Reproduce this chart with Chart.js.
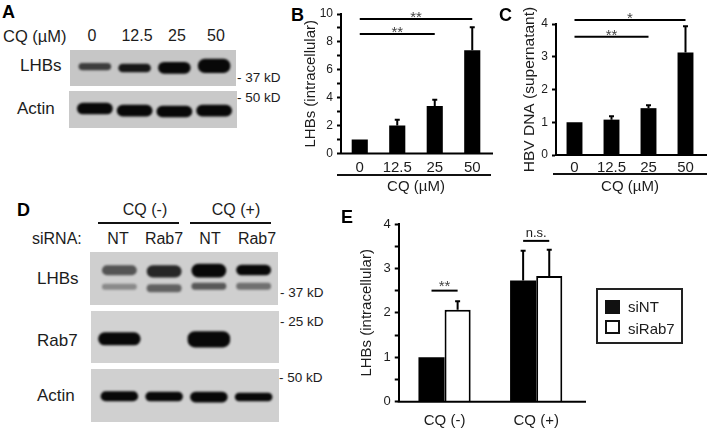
<!DOCTYPE html>
<html>
<head>
<meta charset="utf-8">
<title>CQ and Rab7 blots</title>
<script src="https://cdn.jsdelivr.net/npm/chart.js@4"></script>
<style>
  html, body { margin: 0; background: #fff; }
  #fig { position: relative; width: 712px; height: 428px; overflow: hidden; font-family: "Liberation Sans", Arial, sans-serif; color: #1c1c1c; }
  #fig canvas.plot { position: absolute; }
  .t { position: absolute; transform: translate(-50%, -50%); white-space: nowrap; font-size: 16px; }
  .l { position: absolute; transform: translateY(-50%); white-space: nowrap; font-size: 16px; }
  .mw { font-size: 13.5px; }
  .tag { font-size: 18px; font-weight: bold; color: #000; }
  .rule { position: absolute; height: 2px; background: #111; }
  .blot { position: absolute; overflow: hidden; }
  .blot canvas { filter: blur(1.2px); }
  #legend { position: absolute; left: 596px; top: 288px; width: 83px; height: 52px; border: 2px solid #222; background: #fff; }
  #legend div { position: absolute; left: 7px; width: 15px; height: 14px; box-sizing: border-box; border: 2px solid #111; }
  #legend span { position: absolute; left: 30px; font-size: 15px; transform: translateY(-50%); }
</style>
</head>
<body>
<div id="fig">
  <span class="l tag" style="left:2px;top:12px">A</span>
  <span class="l" style="left:3px;top:36px;font-size:16.5px">CQ (µM)</span>
  <span class="t" style="left:92px;top:36px">0</span>
  <span class="t" style="left:137px;top:36px">12.5</span>
  <span class="t" style="left:177px;top:36px">25</span>
  <span class="t" style="left:216px;top:36px">50</span>
  <span class="l" style="left:20px;top:66px;font-size:17px">LHBs</span>
  <span class="l" style="left:17px;top:109px;font-size:17px">Actin</span>
  <span class="l mw" style="left:237px;top:77px">- 37 kD</span>
  <span class="l mw" style="left:237px;top:97px">- 50 kD</span>
  <div class="blot" style="left:70px;top:50px;width:166px;height:36px;background:#c6c6c6"><canvas id="blotA1" width="166" height="36"></canvas></div>
  <div class="blot" style="left:69px;top:91px;width:168px;height:37px;background:#c9c9c9"><canvas id="blotA2" width="168" height="37"></canvas></div>

  <span class="l tag" style="left:291px;top:15px">B</span>
  <canvas class="plot" id="chartB" width="220" height="200" style="left:280px;top:0"></canvas>
  <div class="rule" style="left:337px;top:174px;width:154px"></div>

  <span class="l tag" style="left:499px;top:15px">C</span>
  <canvas class="plot" id="chartC" width="212" height="200" style="left:500px;top:0"></canvas>
  <div class="rule" style="left:553px;top:173px;width:154px"></div>

  <span class="l tag" style="left:17px;top:210px">D</span>
  <span class="t" style="left:145px;top:210px">CQ (-)</span>
  <span class="t" style="left:236px;top:210px">CQ (+)</span>
  <div class="rule" style="left:98px;top:222px;width:81px"></div>
  <div class="rule" style="left:190px;top:222px;width:81px"></div>
  <span class="l" style="left:32px;top:239px">siRNA:</span>
  <span class="t" style="left:118px;top:239px">NT</span>
  <span class="t" style="left:164px;top:239px">Rab7</span>
  <span class="t" style="left:210px;top:239px">NT</span>
  <span class="t" style="left:257px;top:239px">Rab7</span>
  <span class="l" style="left:37px;top:279px;font-size:17px">LHBs</span>
  <span class="l" style="left:37px;top:341px;font-size:17px">Rab7</span>
  <span class="l" style="left:37px;top:396px;font-size:17px">Actin</span>
  <span class="l mw" style="left:280px;top:292px">- 37 kD</span>
  <span class="l mw" style="left:280px;top:321px">- 25 kD</span>
  <span class="l mw" style="left:279px;top:377px">- 50 kD</span>
  <div class="blot" style="left:90px;top:252px;width:188px;height:53px;background:#cfcfcf"><canvas id="blotD1" width="188" height="53"></canvas></div>
  <div class="blot" style="left:91px;top:311px;width:188px;height:52px;background:#d2d2d2"><canvas id="blotD2" width="188" height="52"></canvas></div>
  <div class="blot" style="left:91px;top:369px;width:188px;height:53px;background:#d0d0d0"><canvas id="blotD3" width="188" height="53"></canvas></div>

  <span class="l tag" style="left:341px;top:217px">E</span>
  <canvas class="plot" id="chartE" width="250" height="228" style="left:340px;top:200px"></canvas>
  <div id="legend"></div>
</div>

<script>
// panel A / B / C
const doses = ['0', '12.5', '25', '50'];
const lhbsMean = [1.0, 2.0, 3.4, 7.4];
const lhbsErrTop = [1.0, 2.42, 3.85, 9.05];
const hbvMean = [1.0, 1.08, 1.43, 3.13];
const hbvErrTop = [1.0, 1.18, 1.52, 3.93];

// panel E
const groups = ['CQ (-)', 'CQ (+)'];
const siNtMean = [1.0, 2.73];
const siNtErrTop = [1.0, 3.4];
const siRabMean = [2.07, 2.83];
const siRabErrTop = [2.26, 3.42];
const legendNames = ['siNT', 'siRab7'];

// blots: band [from, to] as % of the panel height, and how dark it is (0-1)
const lanesA = ['0', '12.5', '25', '50'];
const lanesD = ['NT -', 'Rab7 -', 'NT +', 'Rab7 +'];
const a1Band = [[36, 56], [38, 62], [33, 66], [24, 64]];
const a1Dark = [0.72, 0.92, 1, 1];
const a2Band = [[32, 63], [37, 69], [40, 71], [37, 69]];
const a2Dark = [1, 1, 1, 1];
const d1Upper = [[25, 44], [25, 48], [22, 48], [24, 44]];
const d1UpperDark = [0.62, 0.85, 1, 1];
const d1Lower = [[60, 71], [61, 76], [58, 71], [58, 71]];
const d1LowerDark = [0.35, 0.55, 0.6, 0.48];
const d2Band = [[41, 66], null, [39, 70], null];
const d2Dark = [1, 0, 1, 0];
const d3Band = [[42, 61], [43, 61], [43, 63], [45, 61]];
const d3Dark = [1, 1, 1, 1];

Chart.defaults.font.family = '"Liberation Sans", Arial, sans-serif';
Chart.defaults.color = '#1c1c1c';
Chart.defaults.animation = false;

// error bars, significance brackets and the x axis line, all through the chart scales
const figureMarks = {
  id: 'figureMarks',
  afterDatasetsDraw(chart, args, opts) {
    const { ctx, chartArea, scales } = chart;
    ctx.save();
    ctx.strokeStyle = '#000';
    ctx.lineWidth = 2;

    (opts.errors || []).forEach((tops, ds) => {
      chart.getDatasetMeta(ds).data.forEach((bar, i) => {
        const y = scales.y.getPixelForValue(tops[i]);
        if (y >= bar.y) return; // control lanes have no spread
        ctx.beginPath();
        ctx.moveTo(bar.x, bar.y);
        ctx.lineTo(bar.x, y);
        ctx.moveTo(bar.x - 2.5, y);
        ctx.lineTo(bar.x + 2.5, y);
        ctx.stroke();
      });
    });

    ctx.beginPath();
    ctx.moveTo(chartArea.left - 1, chartArea.bottom);
    ctx.lineTo(chartArea.right + (opts.axisExtend || 0), chartArea.bottom);
    ctx.stroke();

    (opts.brackets || []).forEach(b => {
      const x0 = chart.getDatasetMeta(b.from[0]).data[b.from[1]].x;
      const x1 = chart.getDatasetMeta(b.to[0]).data[b.to[1]].x;
      const y = scales.y.getPixelForValue(b.y);
      ctx.beginPath();
      ctx.moveTo(x0, y);
      ctx.lineTo(x1, y);
      ctx.stroke();
      const isNs = b.label === 'n.s.';
      ctx.fillStyle = isNs ? '#1c1c1c' : '#444';
      ctx.font = (isNs ? 13 : 15) + 'px "Liberation Sans"';
      ctx.textAlign = 'center';
      ctx.fillText(b.label, (x0 + x1) / 2, isNs ? y - 4 : y + opts.starDrop);
    });
    ctx.restore();
  }
};

function barChart(id, cfg) {
  return new Chart(document.getElementById(id), {
    type: 'bar',
    data: { labels: cfg.labels, datasets: cfg.datasets },
    plugins: [figureMarks],
    options: {
      responsive: false,
      devicePixelRatio: 1,
      layout: { padding: cfg.padding },
      plugins: {
        legend: { display: false },
        tooltip: { enabled: false },
        figureMarks: { errors: cfg.errors, brackets: cfg.brackets, axisExtend: cfg.axisExtend, starDrop: cfg.starDrop }
      },
      scales: {
        x: {
          afterFit: s => { s.height = cfg.xHeight; },
          border: { display: false },
          grid: { display: false, drawTicks: false },
          ticks: { font: { size: 15 }, padding: cfg.xPad, maxRotation: 0 },
          title: cfg.xTitle ? { display: true, text: cfg.xTitle, font: { size: 15 }, padding: { top: 0, bottom: 4 } } : { display: false }
        },
        y: {
          min: 0,
          max: cfg.yMax,
          afterFit: s => { s.width = cfg.yWidth; },
          afterBuildTicks: s => { s.ticks = cfg.yTicks.map(v => ({ value: v })); },
          border: { display: true, color: '#000', width: 2 },
          grid: { drawOnChartArea: false, drawTicks: true, tickLength: 4, tickWidth: 2, color: '#000' },
          ticks: {
            font: { size: cfg.yFont },
            padding: 4,
            autoSkip: false,
            callback: v => (cfg.yLabelled.includes(v) ? String(v) : '')
          },
          title: { display: true, text: cfg.yTitle, font: { size: cfg.yTitleSize }, padding: { top: cfg.yTitleInset, bottom: 0 } }
        }
      }
    }
  });
}

barChart('chartB', {
  labels: doses,
  datasets: [{ data: lhbsMean, backgroundColor: '#000', barPercentage: 1, categoryPercentage: 0.43 }],
  errors: [lhbsErrTop],
  brackets: [
    { from: [0, 0], to: [0, 3], y: 9.64, label: '**' },
    { from: [0, 0], to: [0, 2], y: 8.57, label: '**' }
  ],
  padding: { top: 14, right: 9, left: 0, bottom: 0 },
  xHeight: 46.5, xPad: 5, yWidth: 61, yMax: 10,
  yTicks: [0, 1, 2, 3, 4, 5, 6, 7, 8, 9, 10],
  yLabelled: [0, 2, 4, 6, 8, 10],
  yFont: 12, yTitle: 'LHBs (intracellular)', yTitleSize: 15, yTitleInset: 22,
  xTitle: 'CQ (µM)', axisExtend: 2, starDrop: 3
});

barChart('chartC', {
  labels: doses,
  datasets: [{ data: hbvMean, backgroundColor: '#000', barPercentage: 1, categoryPercentage: 0.43 }],
  errors: [hbvErrTop],
  brackets: [
    { from: [0, 0], to: [0, 3], y: 4.12, label: '*' },
    { from: [0, 0], to: [0, 2], y: 3.61, label: '**' }
  ],
  padding: { top: 24, right: 8, left: 0, bottom: 0 },
  xHeight: 45, xPad: 4, yWidth: 56, yMax: 4,
  yTicks: [0, 1, 2, 3, 4],
  yLabelled: [0, 1, 2, 3, 4],
  yFont: 12, yTitle: 'HBV DNA (supernatant)', yTitleSize: 15.5, yTitleInset: 20,
  xTitle: 'CQ (µM)', axisExtend: 3, starDrop: 3
});

barChart('chartE', {
  labels: groups,
  datasets: [
    { data: siNtMean, backgroundColor: '#000', barPercentage: 1, categoryPercentage: 0.57 },
    { data: siRabMean, backgroundColor: '#fff', borderColor: '#000', borderWidth: 2, barPercentage: 1, categoryPercentage: 0.57 }
  ],
  errors: [siNtErrTop, siRabErrTop],
  brackets: [
    { from: [0, 0], to: [1, 0], y: 2.5, label: '**' },
    { from: [0, 1], to: [1, 1], y: 3.62, label: 'n.s.' }
  ],
  padding: { top: 24, right: 8, left: 0, bottom: 0 },
  xHeight: 26.3, xPad: 10, yWidth: 58.75, yMax: 4,
  yTicks: [0, 0.5, 1, 1.5, 2, 2.5, 3, 3.5, 4],
  yLabelled: [0, 1, 2, 3, 4],
  yFont: 13, yTitle: 'LHBs (intracellular)', yTitleSize: 15, yTitleInset: 18,
  axisExtend: 4, starDrop: 0
});

// legend for panel E
const legendEl = document.getElementById('legend');
legendNames.forEach((name, i) => {
  const swatch = document.createElement('div');
  swatch.style.top = (i === 0 ? 10 : 30) + 'px';
  swatch.style.background = i === 0 ? '#111' : '#fff';
  const text = document.createElement('span');
  text.textContent = name;
  text.style.top = (i === 0 ? 16 : 38) + 'px';
  legendEl.append(swatch, text);
});

function blotChart(id, lanes, bands, widthShare, side) {
  return new Chart(document.getElementById(id), {
    type: 'bar',
    data: {
      labels: lanes,
      datasets: bands.map(b => ({
        data: b.band,
        backgroundColor: b.dark.map(d => `rgba(8,8,8,${d})`),
        borderRadius: 7,
        borderSkipped: false,
        grouped: false,
        barPercentage: widthShare,
        categoryPercentage: 1
      }))
    },
    options: {
      responsive: false,
      devicePixelRatio: 1,
      layout: { padding: { left: side[0], right: side[1], top: 0, bottom: 0 } },
      plugins: { legend: { display: false }, tooltip: { enabled: false } },
      scales: {
        x: { display: false },
        y: { display: false, min: 0, max: 100, reverse: true }
      }
    }
  });
}

blotChart('blotA1', lanesA, [{ band: a1Band, dark: a1Dark }], 0.82, [5, 2]);
blotChart('blotA2', lanesA, [{ band: a2Band, dark: a2Dark }], 0.9, [6, 3]);
blotChart('blotD1', lanesD, [{ band: d1Upper, dark: d1UpperDark }, { band: d1Lower, dark: d1LowerDark }], 0.78, [7, 2]);
blotChart('blotD2', lanesD, [{ band: d2Band, dark: d2Dark }], 0.95, [6, 3]);
blotChart('blotD3', lanesD, [{ band: d3Band, dark: d3Dark }], 0.84, [6, 3]);
</script>
</body>
</html>
